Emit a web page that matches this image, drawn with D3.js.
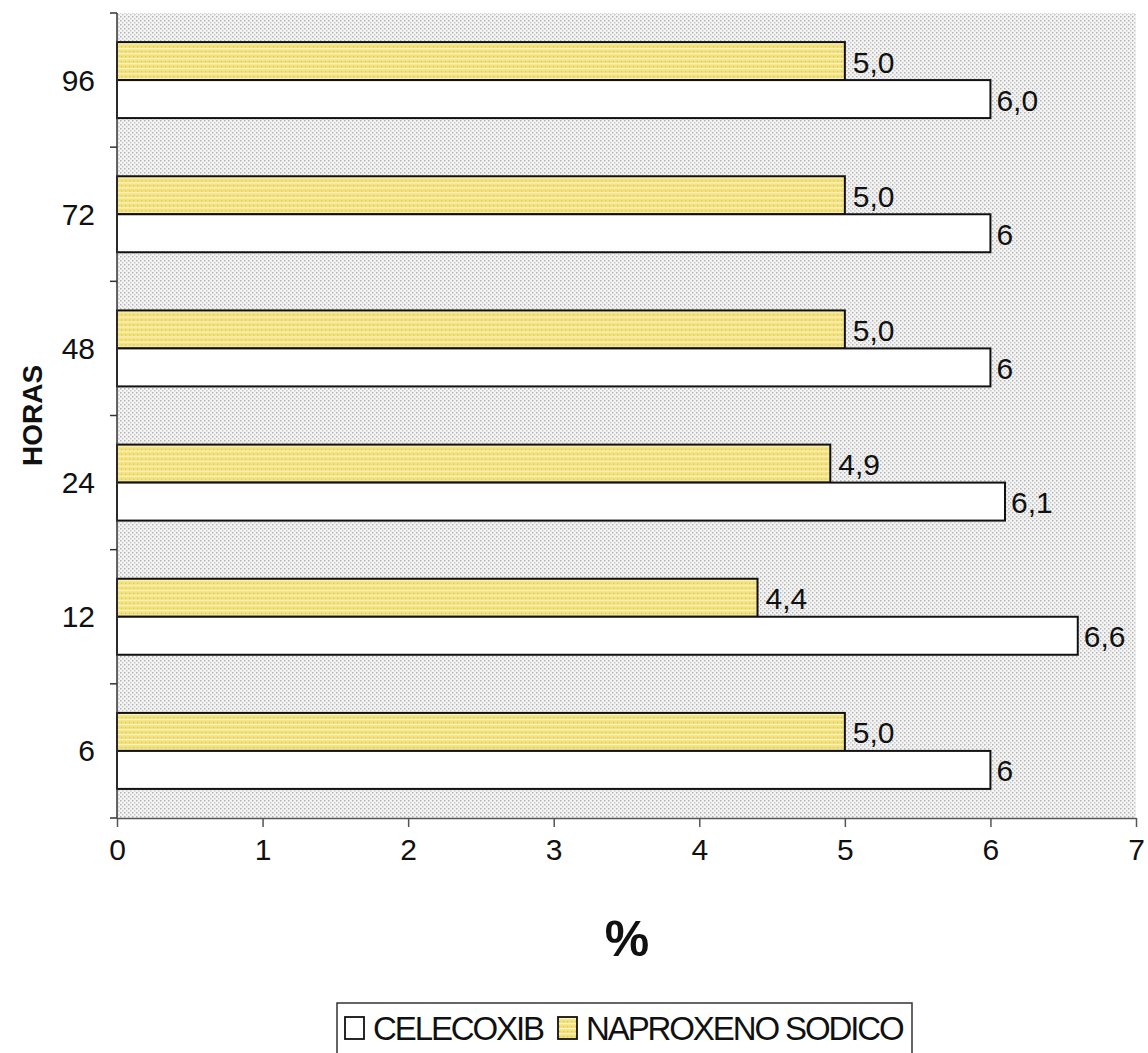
<!DOCTYPE html>
<html>
<head>
<meta charset="utf-8">
<script src="https://cdn.jsdelivr.net/npm/d3@7"></script>
<style>
  body { margin: 0; background: #fff; }
  svg { display: block; font-family: "Liberation Sans", Arial, sans-serif; }
</style>
</head>
<body>
<div id="chart"></div>
<script>
// data, top to bottom
const horas = ["96", "72", "48", "24", "12", "6"];
const naproxeno = [5.0, 5.0, 5.0, 4.9, 4.4, 5.0];
const naproxenoLabels = ["5,0", "5,0", "5,0", "4,9", "4,4", "5,0"];
const celecoxib = [6.0, 6, 6, 6.1, 6.6, 6];
const celecoxibLabels = ["6,0", "6", "6", "6,1", "6,6", "6"];
const xTicks = [0, 1, 2, 3, 4, 5, 6, 7];

const width = 1148, height = 1053;
const margin = {top: 13, right: 12, bottom: 235, left: 117};

const svg = d3.select("#chart").append("svg")
  .attr("width", width)
  .attr("height", height);

const defs = svg.append("defs");

// dotted grey background
const bg = defs.append("pattern")
  .attr("id", "dots")
  .attr("width", 4).attr("height", 4)
  .attr("patternUnits", "userSpaceOnUse");
bg.append("rect").attr("width", 4).attr("height", 4).attr("fill", "#f4f4f4");
bg.append("rect").attr("width", 1.5).attr("height", 1.5).attr("fill", "#b4b4b4");
bg.append("rect").attr("x", 2).attr("y", 2).attr("width", 1.5).attr("height", 1.5).attr("fill", "#cbcbcb");

// yellow striped fill
const yl = defs.append("pattern")
  .attr("id", "yellow")
  .attr("width", 4).attr("height", 5)
  .attr("patternUnits", "userSpaceOnUse");
yl.append("rect").attr("width", 4).attr("height", 5).attr("fill", "#f3e17a");
yl.append("rect").attr("y", 3).attr("width", 4).attr("height", 1.3).attr("fill", "#fbf3c2");
yl.append("rect").attr("x", 1).attr("y", 1).attr("width", 1.2).attr("height", 1.2).attr("fill", "#d9c65c");

const x = d3.scaleLinear()
  .domain([0, 7])
  .range([margin.left, width - margin.right]);

const y = d3.scaleBand()
  .domain(horas)
  .range([margin.top, height - margin.bottom]);

const barH = 38;
const fs = 30;

// plot area
svg.append("rect")
  .attr("x", x(0)).attr("y", y.range()[0])
  .attr("width", x(7) - x(0))
  .attr("height", y.range()[1] - y.range()[0])
  .attr("fill", "url(#dots)");

const groups = svg.append("g").selectAll("g")
  .data(horas)
  .join("g")
  .attr("transform", d => `translate(0,${y(d) + y.bandwidth() / 2})`);

// naproxeno (top bar)
groups.append("rect")
  .attr("x", x(0))
  .attr("y", -barH)
  .attr("width", (d, i) => x(naproxeno[i]) - x(0))
  .attr("height", barH)
  .attr("fill", "url(#yellow)")
  .attr("stroke", "#111")
  .attr("stroke-width", 2);

// celecoxib (bottom bar)
groups.append("rect")
  .attr("x", x(0))
  .attr("y", 0)
  .attr("width", (d, i) => x(celecoxib[i]) - x(0))
  .attr("height", barH)
  .attr("fill", "#fff")
  .attr("stroke", "#111")
  .attr("stroke-width", 2);

groups.append("text")
  .attr("x", (d, i) => x(naproxeno[i]) + 8)
  .attr("y", -barH / 2 + 1)
  .attr("dy", "0.35em")
  .attr("font-size", fs)
  .attr("fill", "#111")
  .text((d, i) => naproxenoLabels[i]);

groups.append("text")
  .attr("x", (d, i) => x(celecoxib[i]) + 6)
  .attr("y", barH / 2 + 1)
  .attr("dy", "0.35em")
  .attr("font-size", fs)
  .attr("fill", "#111")
  .text((d, i) => celecoxibLabels[i]);

// y axis: ticks at category boundaries
const yAxis = svg.append("g");
yAxis.append("line")
  .attr("x1", x(0)).attr("x2", x(0))
  .attr("y1", y.range()[0]).attr("y2", y.range()[1])
  .attr("stroke", "#333").attr("stroke-width", 1.5);
const bounds = horas.map(d => y(d)).concat([y.range()[1]]);
yAxis.selectAll(".tk")
  .data(bounds)
  .join("line")
  .attr("x1", x(0) - 7).attr("x2", x(0))
  .attr("y1", d => d).attr("y2", d => d)
  .attr("stroke", "#333").attr("stroke-width", 1.5);
yAxis.selectAll("text")
  .data(horas)
  .join("text")
  .attr("x", x(0) - 22)
  .attr("y", d => y(d) + y.bandwidth() / 2)
  .attr("dy", "0.35em")
  .attr("text-anchor", "end")
  .attr("font-size", fs)
  .attr("fill", "#111")
  .text(d => d);

// x axis
const xAxis = svg.append("g")
  .attr("transform", `translate(0,${y.range()[1]})`)
  .call(d3.axisBottom(x).tickValues(xTicks).tickSize(9).tickSizeOuter(0).tickPadding(12).tickFormat(d3.format("d")));
xAxis.select(".domain").attr("stroke", "#555").attr("stroke-width", 1.5);
xAxis.selectAll(".tick line").attr("stroke", "#555").attr("stroke-width", 1.5);
xAxis.selectAll(".tick text")
  .attr("font-size", fs)
  .attr("font-family", "Liberation Sans, Arial, sans-serif")
  .attr("fill", "#111");

// axis titles
svg.append("text")
  .attr("transform", `translate(42,${(y.range()[0] + y.range()[1]) / 2}) rotate(-90)`)
  .attr("text-anchor", "middle")
  .attr("font-size", 28)
  .attr("font-weight", "bold")
  .attr("fill", "#111")
  .text("HORAS");

svg.append("text")
  .attr("x", 627).attr("y", 956)
  .attr("text-anchor", "middle")
  .attr("font-size", 50)
  .attr("font-weight", "bold")
  .attr("fill", "#111")
  .text("%");

// legend
const legend = svg.append("g");
legend.append("rect")
  .attr("x", 337).attr("y", 1003)
  .attr("width", 575).attr("height", 60)
  .attr("fill", "#fff")
  .attr("stroke", "#333").attr("stroke-width", 1.5);

const legendItems = [
  {label: "CELECOXIB", fill: "#fff", x: 345},
  {label: "NAPROXENO SODICO", fill: "url(#yellow)", x: 558}
];
const li = legend.selectAll(".item")
  .data(legendItems)
  .join("g")
  .attr("transform", d => `translate(${d.x},0)`);
li.append("rect")
  .attr("x", 0).attr("y", 1017)
  .attr("width", 19).attr("height", 22)
  .attr("fill", d => d.fill)
  .attr("stroke", "#111").attr("stroke-width", 1.8);
li.append("text")
  .attr("x", 28).attr("y", 1040)
  .attr("font-size", 33)
  .attr("letter-spacing", -2.1)
  .attr("fill", "#111")
  .text(d => d.label);
</script>
</body>
</html>
